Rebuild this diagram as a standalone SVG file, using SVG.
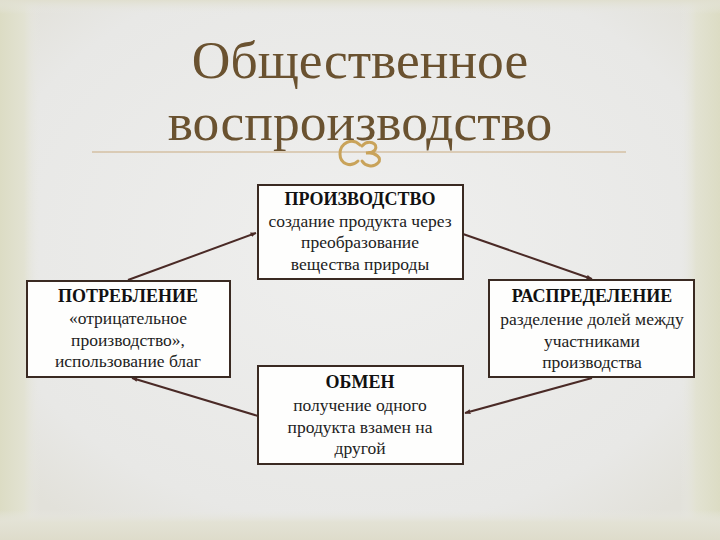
<svg xmlns="http://www.w3.org/2000/svg" width="720" height="540" viewBox="0 0 720 540">
<defs>
<radialGradient id="bg" cx="50%" cy="45%" r="65%">
<stop offset="0" stop-color="#efefee"/>
<stop offset="0.8" stop-color="#e8e8e6"/>
<stop offset="1" stop-color="#e2e1da"/>
</radialGradient>
<linearGradient id="lg" x1="0" y1="0" x2="1" y2="0">
<stop offset="0" stop-color="#dcdcc4"/>
<stop offset="0.6" stop-color="#e2e2d2"/>
<stop offset="1" stop-color="#e8e8e4" stop-opacity="0"/>
</linearGradient>
<linearGradient id="rg" x1="1" y1="0" x2="0" y2="0">
<stop offset="0" stop-color="#dcdcc4"/>
<stop offset="0.6" stop-color="#e2e2d2"/>
<stop offset="1" stop-color="#e8e8e4" stop-opacity="0"/>
</linearGradient>
<linearGradient id="bgr" x1="0" y1="1" x2="0" y2="0">
<stop offset="0" stop-color="#dedccb"/>
<stop offset="0.6" stop-color="#e3e2d5"/>
<stop offset="1" stop-color="#e8e8e4" stop-opacity="0"/>
</linearGradient>
<linearGradient id="tg" x1="0" y1="0" x2="0" y2="1">
<stop offset="0" stop-color="#e0dfcf"/>
<stop offset="1" stop-color="#e8e8e4" stop-opacity="0"/>
</linearGradient>
<marker id="ah" viewBox="0 0 10 10" refX="9" refY="5" markerWidth="6" markerHeight="6" orient="auto" markerUnits="userSpaceOnUse">
<path d="M0,1 L10,5 L0,9 z" fill="#4a2a26"/>
</marker>
<style>
.box{fill:#fefefd;stroke:#3a2a22;stroke-width:2}
.hd{font-family:"Liberation Serif",serif;font-weight:bold;font-size:18px;fill:#111;text-anchor:middle}
.tx{font-family:"Liberation Serif",serif;font-size:17.5px;fill:#222;text-anchor:middle}
.title{font-family:"Liberation Serif",serif;font-size:53.5px;fill:#6a5230;text-anchor:middle}
.cn{stroke:#4a2a26;stroke-width:2;fill:none;marker-end:url(#ah)}
</style>
</defs>
<rect x="0" y="0" width="720" height="540" fill="url(#bg)"/>
<rect x="0" y="0" width="40" height="540" fill="url(#lg)"/>
<rect x="680" y="0" width="40" height="540" fill="url(#rg)"/>
<rect x="0" y="510" width="720" height="30" fill="url(#bgr)"/>
<rect x="0" y="0" width="720" height="14" fill="url(#tg)"/>
<g id="title">
<line x1="92" y1="152" x2="626" y2="152" stroke="#c9ab82" stroke-width="1.2"/>
<path d="M360,145 C352,137 340,143 340,154 C340,164 351,168 358,161" fill="none" stroke="#c9a35a" stroke-width="3" stroke-linecap="round"/>
<path d="M362,146 C368,139 379,143 375,150 C372,154 367,153 366,153 C375,152 383,158 378,163 C373,168 365,166 362,161" fill="none" stroke="#c9a35a" stroke-width="3" stroke-linecap="round"/>
<text class="title" x="360" y="78">Общественное</text>
<text class="title" x="360" y="140">воспроизводство</text>
</g>
<g id="connectors">
<line class="cn" x1="463" y1="234" x2="592" y2="279"/>
<line class="cn" x1="592" y1="378" x2="465" y2="413"/>
<line class="cn" x1="258" y1="416" x2="132" y2="378"/>
<line class="cn" x1="128" y1="280" x2="256" y2="233"/>
</g>
<g id="production">
<rect class="box" x="258" y="185" width="205" height="94"/>
<text class="hd" x="360" y="205">ПРОИЗВОДСТВО</text>
<text class="tx" x="360" y="227">создание продукта через</text>
<text class="tx" x="360" y="248">преобразование</text>
<text class="tx" x="360" y="270">вещества природы</text>
</g>
<g id="consumption">
<rect class="box" x="27" y="281" width="203" height="96"/>
<text class="hd" x="128" y="302">ПОТРЕБЛЕНИЕ</text>
<text class="tx" x="128" y="324">«отрицательное</text>
<text class="tx" x="128" y="346">производство»,</text>
<text class="tx" x="128" y="367">использование благ</text>
</g>
<g id="distribution">
<rect class="box" x="489" y="280" width="205" height="97"/>
<text class="hd" x="592" y="302">РАСПРЕДЕЛЕНИЕ</text>
<text class="tx" x="592" y="325">разделение долей между</text>
<text class="tx" x="592" y="347">участниками</text>
<text class="tx" x="592" y="368">производства</text>
</g>
<g id="exchange">
<rect class="box" x="258" y="366" width="205" height="98"/>
<text class="hd" x="360" y="388">ОБМЕН</text>
<text class="tx" x="360" y="411">получение одного</text>
<text class="tx" x="360" y="433">продукта взамен на</text>
<text class="tx" x="360" y="454">другой</text>
</g>
</svg>
